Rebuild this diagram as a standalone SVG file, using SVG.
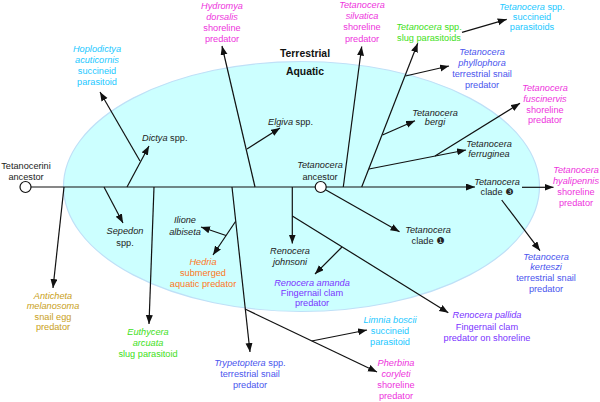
<svg xmlns="http://www.w3.org/2000/svg" width="600" height="402" viewBox="0 0 600 402">
<style>
text{font-family:"Liberation Sans",Arial,"DejaVu Sans",sans-serif;font-size:9.2px;text-anchor:middle;fill:#222}
.i{font-style:italic}
.s{text-anchor:start}
.hd{font-size:10.4px;font-weight:bold;fill:#111}
.cy{fill:#22c8ff}.mg{fill:#ee33dd}.gr{fill:#3ee020}.bl{fill:#4a55ee}.pu{fill:#7a33ff}.or{fill:#ff7722}.ol{fill:#c9a020}
.c line{stroke:#111;stroke-width:1.2;fill:none}
.c .a{marker-end:url(#ah)}
.main{stroke:#333;stroke-width:1.6}
.anc{fill:#fff;stroke:#111;stroke-width:1.2}
</style>
<defs>
<marker id="ah" markerUnits="userSpaceOnUse" markerWidth="10" markerHeight="8" refX="9" refY="3.5" orient="auto">
<path d="M0,0 L9,3.5 L0,7 z" fill="#111"/>
</marker>
</defs>
<ellipse id="habitat" cx="301.5" cy="186.5" rx="238" ry="125" fill="#ccffff" stroke="#bfe0f7" stroke-width="1.2"/>
<g id="habitat-labels">
<text class="hd" x="305" y="57">Terrestrial</text>
<text class="hd" x="305" y="74.5">Aquatic</text>
</g>
<g id="connectors" class="c">
<line class="a main" x1="31" y1="187" x2="475" y2="187"/>
<line class="a" x1="64" y1="187" x2="53" y2="288"/>
<line class="a" x1="127" y1="187" x2="149" y2="146"/>
<line class="a" x1="140" y1="161" x2="100" y2="92"/>
<line class="a" x1="104" y1="187" x2="123" y2="223"/>
<line class="a" x1="154" y1="187" x2="149" y2="324"/>
<line class="a" x1="255" y1="187" x2="222" y2="46"/>
<line class="a" x1="247" y1="149" x2="280" y2="128"/>
<line class="a" x1="232" y1="187" x2="250" y2="352"/>
<line class="a" x1="235.5" y1="221.5" x2="213" y2="255"/>
<line class="a" x1="226" y1="235.5" x2="201" y2="227"/>
<line class="a" x1="245" y1="309" x2="377" y2="372"/>
<line class="a" x1="311.7" y1="341" x2="367" y2="330"/>
<line class="a" x1="292.3" y1="187" x2="292.3" y2="243.5"/>
<line class="a" x1="292.3" y1="216" x2="448.3" y2="312.7"/>
<line class="a" x1="342" y1="247" x2="315" y2="274"/>
<line class="a" x1="320.7" y1="187" x2="399.5" y2="231.7"/>
<line class="a" x1="343.3" y1="187" x2="361.7" y2="46.5"/>
<line class="a" x1="361.7" y1="187" x2="417.7" y2="43.3"/>
<line class="a" x1="369" y1="169" x2="466" y2="150"/>
<line class="a" x1="435" y1="156" x2="520" y2="103.3"/>
<line class="a" x1="382.5" y1="135" x2="415" y2="120.7"/>
<line class="a" x1="405.5" y1="76" x2="449" y2="66"/>
<line class="a" x1="462" y1="32.3" x2="506.7" y2="19.3"/>
<line class="a" x1="522" y1="187.3" x2="553.5" y2="187.3"/>
<line class="a" x1="501.7" y1="200" x2="540" y2="250.7"/>
</g>
<g id="tetanocerini-ancestor">
<circle class="anc" cx="25.5" cy="187" r="5.5"/>
<text x="26" y="168.5">Tetanocerini</text>
<text x="26" y="180">ancestor</text>
</g>
<g id="tetanocera-ancestor">
<circle class="anc" cx="320.7" cy="187" r="5.5"/>
<text class="i" x="320" y="168.3">Tetanocera</text>
<text x="320" y="180">ancestor</text>
</g>
<g id="hoplodictya">
<text class="i cy" x="97" y="52">Hoplodictya</text>
<text class="i cy" x="97" y="63">acuticornis</text>
<text class="cy" x="97" y="74">succineid</text>
<text class="cy" x="97" y="85">parasitoid</text>
</g>
<g id="dictya">
<text class="s" x="142" y="141"><tspan class="i">Dictya</tspan> spp.</text>
</g>
<g id="sepedon">
<text class="i" x="125" y="234">Sepedon</text>
<text x="125" y="245.5">spp.</text>
</g>
<g id="anticheta">
<text class="i ol" x="53" y="298.5">Anticheta</text>
<text class="i ol" x="53" y="309">melanosoma</text>
<text class="ol" x="53" y="319.5">snail egg</text>
<text class="ol" x="53" y="330">predator</text>
</g>
<g id="euthycera">
<text class="i gr" x="148" y="335">Euthycera</text>
<text class="i gr" x="148" y="346">arcuata</text>
<text class="gr" x="148" y="357.3">slug parasitoid</text>
</g>
<g id="hydromya">
<text class="i mg" x="222" y="8.5">Hydromya</text>
<text class="i mg" x="222" y="19.5">dorsalis</text>
<text class="mg" x="222" y="30.5">shoreline</text>
<text class="mg" x="222" y="41.5">predator</text>
</g>
<g id="elgiva">
<text class="s" x="268" y="125"><tspan class="i">Elgiva</tspan> spp.</text>
</g>
<g id="ilione">
<text class="i" x="185" y="223.3">Ilione</text>
<text class="i" x="185" y="235">albiseta</text>
</g>
<g id="hedria">
<text class="i or" x="203" y="265">Hedria</text>
<text class="or" x="203" y="276.3">submerged</text>
<text class="or" x="203" y="287.3">aquatic predator</text>
</g>
<g id="trypetoptera">
<text class="bl" x="250" y="366"><tspan class="i">Trypetoptera</tspan> spp.</text>
<text class="bl" x="250" y="377.3">terrestrial snail</text>
<text class="bl" x="250" y="388.3">predator</text>
</g>
<g id="renocera-johnsoni">
<text class="i" x="290" y="254">Renocera</text>
<text class="i" x="290" y="265">johnsoni</text>
</g>
<g id="renocera-amanda">
<text class="i pu" x="312" y="285.6">Renocera amanda</text>
<text class="pu" x="312" y="296">Fingernail clam</text>
<text class="pu" x="312" y="306.3">predator</text>
</g>
<g id="renocera-pallida">
<text class="i pu" x="487" y="318.3">Renocera pallida</text>
<text class="pu" x="487" y="330">Fingernail clam</text>
<text class="pu" x="487" y="341.3">predator on shoreline</text>
</g>
<g id="limnia">
<text class="i cy" x="390" y="322.6">Limnia boscii</text>
<text class="cy" x="390" y="334">succineid</text>
<text class="cy" x="390" y="344.6">parasitoid</text>
</g>
<g id="pherbina">
<text class="i mg" x="396" y="366">Pherbina</text>
<text class="i mg" x="396" y="376.8">coryleti</text>
<text class="mg" x="396" y="388.3">shoreline</text>
<text class="mg" x="396" y="399.3">predator</text>
</g>
<g id="tetanocera-clade1">
<text class="i" x="428" y="233.3">Tetanocera</text>
<text x="428" y="243.5">clade ❶</text>
</g>
<g id="tetanocera-silvatica">
<text class="i mg" x="362" y="8.3">Tetanocera</text>
<text class="i mg" x="362" y="19.3">silvatica</text>
<text class="mg" x="362" y="30.3">shoreline</text>
<text class="mg" x="362" y="41.6">predator</text>
</g>
<g id="tetanocera-slug">
<text class="gr" x="429" y="30"><tspan class="i">Tetanocera</tspan> spp.</text>
<text class="gr" x="429" y="40.6">slug parasitoids</text>
</g>
<g id="tetanocera-succineid">
<text class="cy" x="532" y="10"><tspan class="i">Tetanocera</tspan> spp.</text>
<text class="cy" x="532" y="20">succineid</text>
<text class="cy" x="532" y="30">parasitoids</text>
</g>
<g id="tetanocera-phyllophora">
<text class="i bl" x="482" y="55">Tetanocera</text>
<text class="i bl" x="482" y="66">phyllophora</text>
<text class="bl" x="482" y="77.3">terrestrial snail</text>
<text class="bl" x="482" y="88.3">predator</text>
</g>
<g id="tetanocera-bergi">
<text class="i" x="435" y="115.6">Tetanocera</text>
<text class="i" x="435" y="125">bergi</text>
</g>
<g id="tetanocera-fuscinervis">
<text class="i mg" x="545" y="90.6">Tetanocera</text>
<text class="i mg" x="545" y="101.6">fuscinervis</text>
<text class="mg" x="545" y="112.6">shoreline</text>
<text class="mg" x="545" y="123.3">predator</text>
</g>
<g id="tetanocera-ferruginea">
<text class="i" x="489" y="146.6">Tetanocera</text>
<text class="i" x="489" y="156.6">ferruginea</text>
</g>
<g id="tetanocera-clade3">
<text class="i" x="497" y="185">Tetanocera</text>
<text x="497" y="195">clade ❸</text>
</g>
<g id="tetanocera-hyalipennis">
<text class="i mg" x="576" y="172.6">Tetanocera</text>
<text class="i mg" x="576" y="183.6">hyalipennis</text>
<text class="mg" x="576" y="194.6">shoreline</text>
<text class="mg" x="576" y="205.6">predator</text>
</g>
<g id="tetanocera-kerteszi">
<text class="i bl" x="546" y="259.5">Tetanocera</text>
<text class="i bl" x="546" y="270.3">kerteszi</text>
<text class="bl" x="546" y="281.1">terrestrial snail</text>
<text class="bl" x="546" y="291.9">predator</text>
</g>
</svg>
